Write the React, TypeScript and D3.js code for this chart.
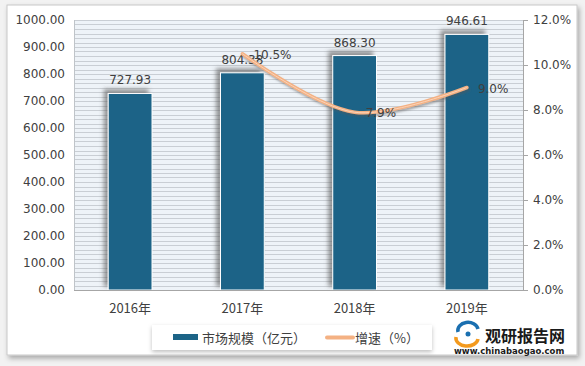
import React, { useEffect, useRef } from 'react';
import * as d3 from 'd3';

const years = ['2016年', '2017年', '2018年', '2019年'];
const marketSize = [727.93, 804.38, 868.3, 946.61];
const growthYears = ['2017年', '2018年', '2019年'];
const growthRate = [10.5, 7.9, 9.0];
const leftTicks = [0, 100, 200, 300, 400, 500, 600, 700, 800, 900, 1000];
const rightTicks = [0, 2, 4, 6, 8, 10, 12];

const W = 585;
const H = 366;
const NUM_FONT = '"DejaVu Sans", Verdana, sans-serif';
const CJK_FONT = '"Noto Sans CJK SC", "Noto Sans", sans-serif';

const App: React.FC = () => {
  const svgRef = useRef<SVGSVGElement | null>(null);

  useEffect(() => {
    if (!svgRef.current) return;
    const svg = d3.select(svgRef.current);
    svg.selectAll('*').remove();

    const margin = { top: 20, right: 62, bottom: 76, left: 74 };
    const innerW = W - margin.left - margin.right;
    const innerH = H - margin.top - margin.bottom;

    const defs = svg.append('defs');
    const card = defs.append('filter').attr('id', 'cardShadow').attr('x', '-5%').attr('y', '-5%').attr('width', '110%').attr('height', '115%');
    card.append('feDropShadow').attr('dx', 2).attr('dy', 3).attr('stdDeviation', 2.5).attr('flood-color', '#000').attr('flood-opacity', 0.3);
    const barSh = defs.append('filter').attr('id', 'barShadow').attr('x', '-40%').attr('y', '-20%').attr('width', '180%').attr('height', '140%');
    barSh.append('feDropShadow').attr('dx', -4).attr('dy', -4).attr('stdDeviation', 2).attr('flood-color', '#555').attr('flood-opacity', 0.6);
    const lineSh = defs.append('filter').attr('id', 'lineShadow').attr('x', '-10%').attr('y', '-30%').attr('width', '120%').attr('height', '160%');
    lineSh.append('feDropShadow').attr('dx', 1).attr('dy', 2).attr('stdDeviation', 1).attr('flood-color', '#555').attr('flood-opacity', 0.5);
    const legSh = defs.append('filter').attr('id', 'legShadow').attr('x', '-5%').attr('y', '-20%').attr('width', '110%').attr('height', '160%');
    legSh.append('feDropShadow').attr('dx', 0).attr('dy', 2).attr('stdDeviation', 2).attr('flood-color', '#000').attr('flood-opacity', 0.25);

    // page + card
    svg.append('rect').attr('width', W).attr('height', H).attr('fill', '#f2f2f2');
    svg.append('rect').attr('x', 7).attr('y', 5).attr('width', 570).attr('height', 350)
      .attr('fill', '#fff').attr('stroke', '#c8c8c8').attr('filter', 'url(#cardShadow)');

    const g = svg.append('g').attr('transform', `translate(${margin.left},${margin.top})`);

    const x = d3.scaleBand().domain(years).range([0, innerW]).paddingInner(0.61).paddingOuter(0.305);
    const y = d3.scaleLinear().domain([0, 1000]).range([innerH, 0]);
    const y2 = d3.scaleLinear().domain([0, 12]).range([innerH, 0]);

    // plot background with dense stripes
    g.append('rect').attr('width', innerW).attr('height', innerH).attr('fill', '#eef3f8');
    const stripes = d3.range(0, 61).map((i) => (i * 100) / 6);
    g.selectAll('line.stripe')
      .data(stripes)
      .enter()
      .append('line')
      .attr('class', 'stripe')
      .attr('x1', 0)
      .attr('x2', innerW)
      .attr('y1', (d) => Math.round(y(d)) + 0.5)
      .attr('y2', (d) => Math.round(y(d)) + 0.5)
      .attr('stroke', '#c9ced4')
      .attr('stroke-width', 1);
    g.append('line').attr('x1', 0.5).attr('x2', 0.5).attr('y1', 0).attr('y2', innerH).attr('stroke', '#bfc4c9');

    // bars
    g.selectAll('rect.bar')
      .data(marketSize)
      .enter()
      .append('rect')
      .attr('class', 'bar')
      .attr('x', (_, i) => x(years[i])!)
      .attr('y', (d) => y(d))
      .attr('width', x.bandwidth())
      .attr('height', (d) => innerH - y(d))
      .attr('fill', '#1c6487')
      .attr('stroke', '#ffffff')
      .attr('stroke-width', 1)
      .attr('filter', 'url(#barShadow)');

    // bottom axis line
    g.append('line').attr('x1', 0).attr('x2', innerW).attr('y1', innerH + 0.5).attr('y2', innerH + 0.5).attr('stroke', '#a6a6a6');

    // right axis
    const right = g.append('g').attr('transform', `translate(${innerW},0)`);
    right.append('line').attr('x1', 0.5).attr('x2', 0.5).attr('y1', 0).attr('y2', innerH).attr('stroke', '#a6a6a6');
    right.selectAll('line.tk')
      .data(rightTicks)
      .enter()
      .append('line')
      .attr('class', 'tk')
      .attr('x1', 0)
      .attr('x2', 5)
      .attr('y1', (d) => Math.round(y2(d)) + 0.5)
      .attr('y2', (d) => Math.round(y2(d)) + 0.5)
      .attr('stroke', '#a6a6a6');
    right.selectAll('text')
      .data(rightTicks)
      .enter()
      .append('text')
      .attr('x', 10)
      .attr('y', (d) => y2(d))
      .attr('dy', '0.35em')
      .attr('font-family', NUM_FONT)
      .attr('font-size', 12)
      .attr('fill', '#404040')
      .text((d) => `${d.toFixed(1)}%`);

    // left labels
    g.selectAll('text.ly')
      .data(leftTicks)
      .enter()
      .append('text')
      .attr('class', 'ly')
      .attr('x', -9)
      .attr('y', (d) => y(d))
      .attr('dy', '0.35em')
      .attr('text-anchor', 'end')
      .attr('font-family', NUM_FONT)
      .attr('font-size', 12)
      .attr('fill', '#404040')
      .text((d) => d.toFixed(2));

    // x labels
    g.selectAll('text.xl')
      .data(years)
      .enter()
      .append('text')
      .attr('class', 'xl')
      .attr('x', (d) => x(d)! + x.bandwidth() / 2)
      .attr('y', innerH + 23)
      .attr('text-anchor', 'middle')
      .attr('font-family', CJK_FONT)
      .attr('font-size', 13)
      .attr('fill', '#404040')
      .text((d) => d);

    // bar labels
    g.selectAll('text.bl')
      .data(marketSize)
      .enter()
      .append('text')
      .attr('class', 'bl')
      .attr('x', (_, i) => x(years[i])! + x.bandwidth() / 2)
      .attr('y', (d) => y(d) - 9)
      .attr('text-anchor', 'middle')
      .attr('font-family', NUM_FONT)
      .attr('font-size', 12)
      .attr('fill', '#404040')
      .text((d) => d.toFixed(2));

    // growth line
    const pts: [number, number][] = growthRate.map((v, i) => [x(growthYears[i])! + x.bandwidth() / 2, y2(v)]);
    const line = d3.line().curve(d3.curveCatmullRom.alpha(0.5));
    g.append('path')
      .attr('d', line(pts))
      .attr('fill', 'none')
      .attr('stroke', '#f4b183')
      .attr('stroke-width', 3.5)
      .attr('stroke-linecap', 'round')
      .attr('filter', 'url(#lineShadow)');
    g.append('path')
      .attr('d', line(pts))
      .attr('fill', 'none')
      .attr('stroke', '#fbd3b8')
      .attr('stroke-width', 1)
      .attr('stroke-linecap', 'round');

    g.selectAll('text.gl')
      .data(growthRate)
      .enter()
      .append('text')
      .attr('class', 'gl')
      .attr('x', (_, i) => pts[i][0] + 11)
      .attr('y', (_, i) => pts[i][1] + 1)
      .attr('dy', '0.35em')
      .attr('font-family', NUM_FONT)
      .attr('font-size', 12)
      .attr('fill', '#404040')
      .text((d) => `${d.toFixed(1)}%`);

    // legend
    const leg = svg.append('g');
    leg.append('rect').attr('x', 152).attr('y', 325).attr('width', 280).attr('height', 25)
      .attr('fill', '#fff').attr('filter', 'url(#legShadow)');
    leg.append('rect').attr('x', 173).attr('y', 334).attr('width', 25).attr('height', 6).attr('fill', '#1c6487');
    leg.append('text').attr('x', 202).attr('y', 338).attr('dy', '0.35em')
      .attr('font-family', CJK_FONT).attr('font-size', 13).attr('fill', '#404040').text('市场规模（亿元）');
    leg.append('line').attr('x1', 327).attr('x2', 353).attr('y1', 337.5).attr('y2', 337.5)
      .attr('stroke', '#f4b183').attr('stroke-width', 4).attr('stroke-linecap', 'round');
    leg.append('text').attr('x', 355).attr('y', 338).attr('dy', '0.35em')
      .attr('font-family', CJK_FONT).attr('font-size', 13).attr('fill', '#404040').text('增速（%）');

    // watermark
    const wm = svg.append('g');
    wm.append('path').attr('d', 'M458,332 A10,8 0 0 1 478,329').attr('fill', 'none').attr('stroke', '#1a6fb0').attr('stroke-width', 3.5);
    wm.append('path').attr('d', 'M456,337 A11,8 0 0 0 478,339').attr('fill', 'none').attr('stroke', '#f39a1e').attr('stroke-width', 3.5);
    wm.append('circle').attr('cx', 468).attr('cy', 334).attr('r', 2.5).attr('fill', '#1a6fb0');
    wm.append('text').attr('x', 485).attr('y', 342).attr('font-family', CJK_FONT).attr('font-weight', 'bold')
      .attr('font-size', 16).attr('fill', '#1a1a1a').text('观研报告网');
    wm.append('text').attr('x', 454).attr('y', 354).attr('font-family', NUM_FONT).attr('font-weight', 'bold')
      .attr('font-size', 8.5).attr('fill', '#1a1a1a').text('www.chinabaogao.com');
  }, []);

  return (
    <svg ref={svgRef} width={W} height={H} style={{ position: 'absolute', left: 0, top: 0 }}>
      {/* chart drawn by d3 */}
    </svg>
  );
};

export default App;
